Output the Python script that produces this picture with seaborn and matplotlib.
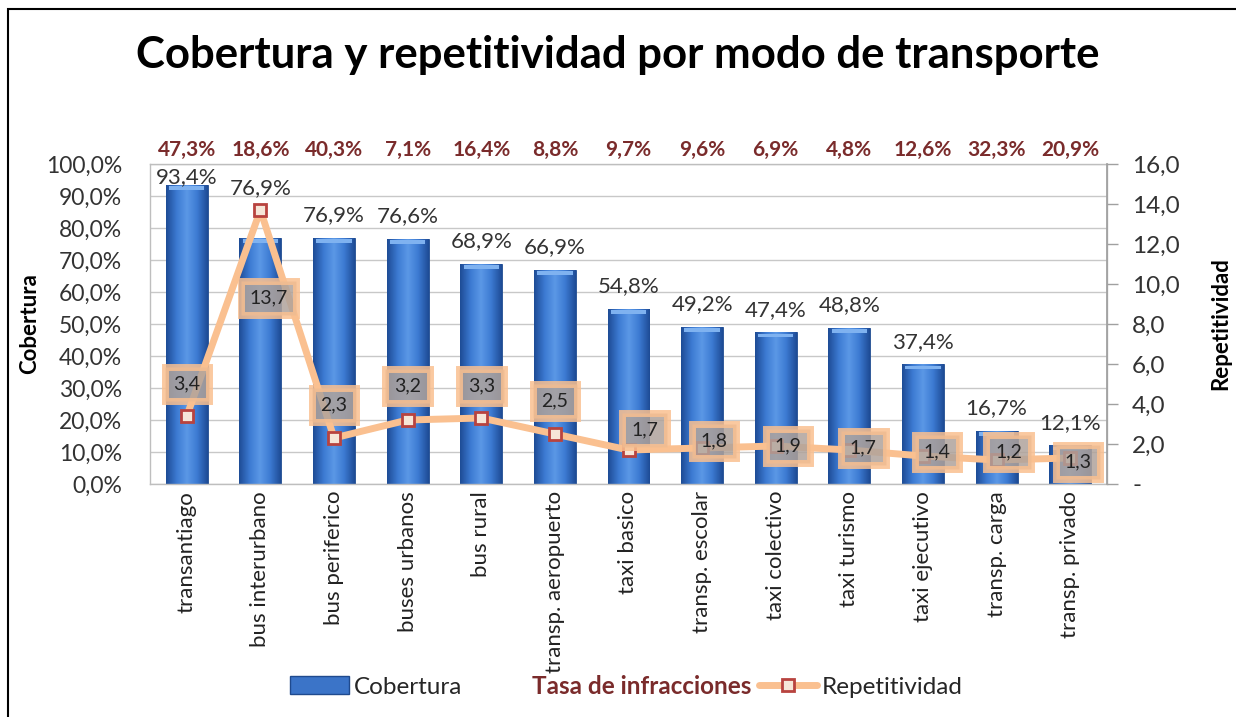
import numpy as np
import pandas as pd
import matplotlib
matplotlib.use("Agg")
import matplotlib.pyplot as plt
import matplotlib.patches as mpatches
from matplotlib.lines import Line2D
from matplotlib.colors import LinearSegmentedColormap
import seaborn as sns

# datos
modos = ["transantiago", "bus interurbano", "bus periferico", "buses urbanos", "bus rural",
         "transp. aeropuerto", "taxi basico", "transp. escolar", "taxi colectivo",
         "taxi turismo", "taxi ejecutivo", "transp. carga", "transp. privado"]
cobertura = [93.4, 76.9, 76.9, 76.6, 68.9, 66.9, 54.8, 49.2, 47.4, 48.8, 37.4, 16.7, 12.1]
repetitividad = [3.4, 13.7, 2.3, 3.2, 3.3, 2.5, 1.7, 1.8, 1.9, 1.7, 1.4, 1.2, 1.3]
tasa_infracciones = [47.3, 18.6, 40.3, 7.1, 16.4, 8.8, 9.7, 9.6, 6.9, 4.8, 12.6, 32.3, 20.9]

# desplazamiento de las etiquetas de repetitividad (px)
lab_dx = [0, 8, 0, 0, 0, 0, 16, 12, 12, 14, 14, 12, 8]
lab_dy = [32, -88, 33, 34, 32, 33, 20, 7, 0, 2, 4, 8, -4]

sns.set_theme(style="white")
plt.rcParams["font.family"] = ["Lato", "DejaVu Sans"]

df = pd.DataFrame({"modo": modos, "cobertura": cobertura, "repetitividad": repetitividad})

fig = plt.figure(figsize=(12.36, 7.17), dpi=100)
ax = fig.add_axes([150 / 1236, 1 - 484 / 717, (1107 - 150) / 1236, 320 / 717])

sns.barplot(data=df, x="modo", y="cobertura", color="#3B74C8", width=0.57,
            saturation=1, ax=ax, zorder=2)

# efecto cilindro en las barras
cmap = LinearSegmentedColormap.from_list("cil", ["#1E4C96", "#3C7AD2", "#5B98E6", "#3C7AD2", "#1E4C96"])
grad = np.linspace(0, 1, 64).reshape(1, -1)
for p in ax.patches:
    x0, w, h = p.get_x(), p.get_width(), p.get_height()
    im = ax.imshow(grad, cmap=cmap, aspect="auto", extent=[x0, x0 + w, 0, h], zorder=2.1)
    im.set_clip_path(p)
    ax.add_patch(mpatches.Rectangle((x0 + w * 0.08, h - 1.6), w * 0.84, 1.2,
                                    color="#7FB2F0", lw=0, zorder=2.2))
    p.set_edgecolor("#1F4A8E")
    p.set_linewidth(0.6)

ax.set_xlim(-0.5, len(modos) - 0.5)
ax.set_ylim(0, 100)
ax.set_yticks(np.arange(0, 101, 10))
ax.set_yticklabels([f"{v:.1f}%".replace(".", ",") for v in np.arange(0, 101, 10)],
                   fontsize=16.5, color="#333333")
ax.yaxis.grid(True, color="#C8C8C8", lw=1, zorder=0)
ax.set_axisbelow(True)
for s in ax.spines.values():
    s.set_color("#BEBEBE")
    s.set_linewidth(1)
ax.set_xlabel("")
ax.set_ylabel("Cobertura", fontsize=16, fontweight="bold", color="black", labelpad=4)
ax.set_xticks(range(len(modos)))
ax.set_xticklabels(modos, rotation=90, fontsize=16, color="#222222")
ax.tick_params(axis="x", length=0, pad=5)
ax.tick_params(axis="y", length=0, pad=20)

# eje secundario
ax2 = ax.twinx()
pos = np.arange(len(modos))
ax2.plot(pos, repetitividad, color="#FAC090", lw=5, zorder=3, solid_joinstyle="round")
ax2.plot(pos, repetitividad, ls="none", marker="s", ms=8.5, mfc="#F6E6D8",
         mec="#B8433F", mew=2, zorder=4)
ax2.set_ylim(0, 16)
ax2.set_yticks(np.arange(0, 17, 2))
ax2.set_yticklabels(["-" if v == 0 else f"{v:.1f}".replace(".", ",") for v in np.arange(0, 17, 2)],
                    fontsize=17.5, color="#333333")
ax2.tick_params(axis="y", length=8, width=1, color="#A0A0A0", pad=10, direction="out")
for s in ax2.spines.values():
    s.set_visible(False)
ax2.spines["right"].set_visible(True)
ax2.spines["right"].set_color("#A0A0A0")
ax2.set_ylabel("Repetitividad", fontsize=16, fontweight="bold", color="black", labelpad=22)
ax2.grid(False)

for i, v in enumerate(repetitividad):
    ax2.annotate(f"{v:.1f}".replace(".", ","), (i, v),
                 xytext=(lab_dx[i] * 0.72, lab_dy[i] * 0.72), textcoords="offset points",
                 ha="center", va="center", fontsize=14, color="#222222", zorder=6,
                 bbox=dict(boxstyle="square,pad=0.45", fc="#B0A39B", ec="#FAC090",
                           lw=5, alpha=0.85))

# etiquetas de cobertura
for i, v in enumerate(cobertura):
    top = max(v, repetitividad[i] / 16 * 100)
    y = min(top + 7, 95.8)
    ax.text(i, y, f"{v:.1f}%".replace(".", ","), ha="center", va="center",
            fontsize=16, color="#333333", zorder=5)

# tasa de infracciones sobre el area del grafico
for i, v in enumerate(tasa_infracciones):
    ax.text(i, 1.044, f"{v:.1f}%".replace(".", ","), transform=ax.get_xaxis_transform(),
            ha="center", va="center", fontsize=15, fontweight="bold", color="#7A2B2B")

fig.text(0.5, 1 - 55 / 717, "Cobertura y repetitividad por modo de transporte",
         ha="center", va="center", fontsize=31.5, fontweight="bold", color="black")

handles = [mpatches.Patch(fc="#3B74C8", ec="#1F4A8E"),
           Line2D([], [], ls="none"),
           Line2D([], [], color="#FAC090", lw=5, marker="s", ms=8.5, mfc="#F6E6D8",
                  mec="#B8433F", mew=2)]
leg = fig.legend(handles, ["Cobertura", "Tasa de infracciones", "Repetitividad"],
                 loc="center", bbox_to_anchor=(0.507, 1 - 686 / 717), ncol=3,
                 frameon=False, fontsize=17.5, handlelength=2.4, columnspacing=0.3,
                 handletextpad=0.2)
leg.get_texts()[1].set_color("#7A2B2B")
leg.get_texts()[1].set_fontweight("bold")

# marco exterior
fig.add_artist(mpatches.Rectangle((8 / 1236, -0.1), 1.2, 1 - 9 / 717 + 0.1,
                                  transform=fig.transFigure, fill=False, ec="black", lw=1.5))

fig.savefig("out.png", dpi=100)
